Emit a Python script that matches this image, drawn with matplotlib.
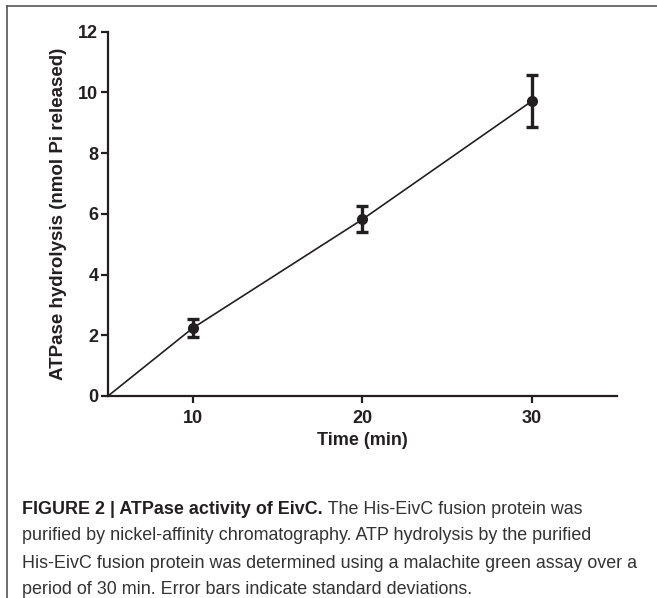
import numpy as np
import matplotlib
matplotlib.use("Agg")
import matplotlib.pyplot as plt
from matplotlib.lines import Line2D

# data
time_min = [5, 10, 20, 30]
atp_mean = [0.0, 2.24, 5.82, 9.72]
atp_sd = [0.0, 0.30, 0.43, 0.85]

x_ticks = [10, 20, 30]
y_ticks = [0, 2, 4, 6, 8, 10, 12]

caption_bold = "FIGURE 2 | ATPase activity of EivC."
caption_rest = [" The His-EivC fusion protein was",
                "purified by nickel-affinity chromatography. ATP hydrolysis by the purified",
                "His-EivC fusion protein was determined using a malachite green assay over a",
                "period of 30 min. Error bars indicate standard deviations."]

plt.rcParams['font.family'] = ['Liberation Sans', 'DejaVu Sans']
ink = "#231f20"

fig = plt.figure(figsize=(6.57, 5.98), dpi=100)
ax = fig.add_axes([0.1644, 0.3378, 0.7747, 0.6092])

# connecting line, then the points with error bars
ax.plot(time_min, atp_mean, color=ink, lw=1.2, zorder=2)
ax.errorbar(time_min[1:], atp_mean[1:], yerr=atp_sd[1:], fmt="o", color=ink,
            ms=7, elinewidth=2.4, capsize=4.5, capthick=2.4, zorder=3)

ax.set_xlim(5, 35)
ax.set_ylim(0, 12)
ax.set_xticks(x_ticks)
ax.set_yticks(y_ticks)
for s in ["top", "right"]:
    ax.spines[s].set_visible(False)
for s in ["left", "bottom"]:
    ax.spines[s].set_linewidth(1.6)
    ax.spines[s].set_color(ink)
ax.tick_params(direction="out", length=5, width=1.6, color=ink,
               labelsize=13, pad=2)
ax.tick_params(axis="x", pad=5)
for lab in ax.get_xticklabels() + ax.get_yticklabels():
    lab.set_fontweight("bold")
    lab.set_color(ink)
ax.set_xlabel("Time (min)", fontsize=13, fontweight="bold", color=ink, labelpad=4)
ax.set_ylabel("ATPase hydrolysis (nmol Pi released)", fontsize=13.5,
              fontweight="bold", color=ink, labelpad=8)

# panel frame: top and left edges only
fig.add_artist(Line2D([7 / 657, 1], [1 - 6 / 598, 1 - 6 / 598],
                      transform=fig.transFigure, color="#555555", lw=1.2))
fig.add_artist(Line2D([7 / 657, 7 / 657], [0, 1 - 6 / 598],
                      transform=fig.transFigure, color="#555555", lw=1.2))

# caption
x0 = 22 / 657
line_y = [509, 536, 563, 590]
fs = 12.9
t = fig.text(x0, 1 - line_y[0] / 598, caption_bold, fontsize=fs,
             fontweight="bold", color=ink, va="center")
fig.canvas.draw()
bb = t.get_window_extent()
fig.text(bb.x1 / fig.bbox.width, 1 - line_y[0] / 598, caption_rest[0],
         fontsize=fs, color="#333333", va="center")
for txt, yy in zip(caption_rest[1:], line_y[1:]):
    fig.text(x0, 1 - yy / 598, txt, fontsize=fs, color="#333333", va="center")

fig.savefig("out.png", dpi=100)
